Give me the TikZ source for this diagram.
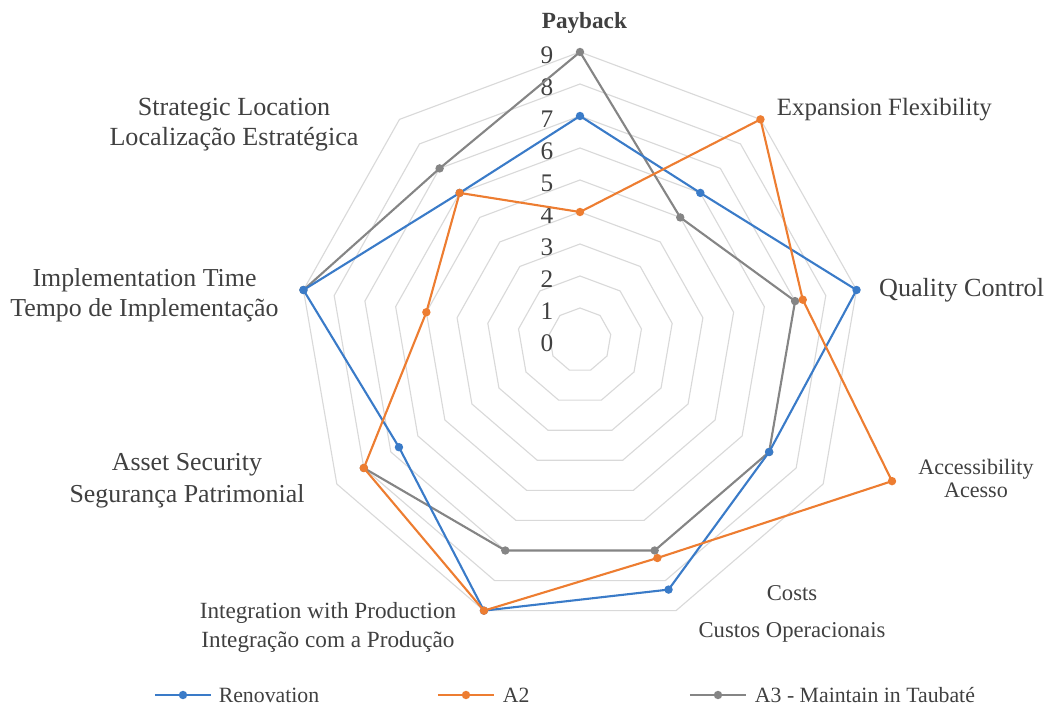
\documentclass[tikz,border=0pt]{standalone}
\usepackage{fontspec}
\setmainfont{Liberation Serif}
\usepackage{xcolor}
\usetikzlibrary{positioning}

\definecolor{renov}{HTML}{3A7BC8}
\definecolor{atwo}{HTML}{ED7D31}
\definecolor{athree}{HTML}{858585}
\definecolor{grid}{HTML}{D9D9D9}
\definecolor{txt}{HTML}{404040}

\begin{document}
\begin{tikzpicture}[
    lbl/.style={text=txt,align=center},
    lgd/.style={text=txt,font=\fontsize{15.5}{18}\selectfont},
    grd/.style={draw=grid,line width=0.8pt},
    ser/.style={draw=#1,line width=1.5pt,line join=round}]
    \useasboundingbox (-14.5,-9.475) rectangle (11.725,8.5);

    \begin{scope}[x=0.78cm,y=0.8cm]
        \foreach \k in {1,...,9}
            \draw[grd] (90:\k) \foreach \a in {50,10,...,-230} {-- (\a:\k)} -- cycle;
        \foreach \k in {0,...,9}
            \node[lbl,font=\fontsize{18}{20}\selectfont] (v\k) at ([xshift=-0.825cm,yshift=-0.075cm]0,\k) {\k};

        \foreach \v [count=\i] in {9,5,7,7,7,7,8,9,7}
            \coordinate (g\i) at ({130-40*\i}:\v);
        \foreach \v [count=\i] in {7,6,9,7,8.3,9,6.7,9,6}
            \coordinate (b\i) at ({130-40*\i}:\v);
        \foreach \v [count=\i] in {4,9,7.25,11,7.25,9,8,5,6}
            \coordinate (o\i) at ({130-40*\i}:\v);
        \coordinate (o4) at (-23.8:10.93);

        \draw[ser=athree] (g8) -- (g9) \foreach \i in {1,...,7} {-- (g\i)};
        \foreach \i in {1,...,9} \fill[athree] (g\i) circle (3pt);
        \draw[ser=renov] (b1) \foreach \i in {2,...,9} {-- (b\i)} -- cycle;
        \foreach \i in {1,...,9} \fill[renov] (b\i) circle (3pt);
        \draw[ser=atwo] (o1) \foreach \i in {2,...,9} {-- (o\i)} -- cycle;
        \foreach \i in {1,...,9} \fill[atwo] (o\i) circle (3pt);
    \end{scope}

    \node[lbl,font=\bfseries\fontsize{16.5}{19}\selectfont] (pb) at (0.11,7.925) {Payback};
    \node[lbl,font=\fontsize{17.7}{21}\selectfont] (ef) at (7.61,5.75) {Expansion Flexibility};
    \node[lbl,font=\fontsize{18.6}{21}\selectfont] (qc) at (9.54,1.25) {Quality Control};
    \node[lbl,font=\fontsize{15.7}{17}\selectfont] (ac) at (9.9,-3.46) {Accessibility\\Acesso};
    \node[lbl,font=\fontsize{16.1}{26.5}\selectfont] (co) at (5.3,-6.84) {Costs\\Custos Operacionais};
    \node[lbl,font=\fontsize{16.5}{20.6}\selectfont] (ip) at (-6.3,-7.175) {Integration with Production\\Integração com a Produção};
    \node[lbl,font=\fontsize{18.4}{22.8}\selectfont] (as) at (-9.825,-3.525) {Asset Security\\Segurança Patrimonial};
    \node[lbl,font=\fontsize{18.4}{21.3}\selectfont] (it) at (-10.8875,1.125) {Implementation Time\\Tempo de Implementação};
    \node[lbl,font=\fontsize{18.6}{21.3}\selectfont] (sl) at (-8.65,5.375) {Strategic Location\\Localização Estratégica};

    \coordinate (r1) at (-10.625,-8.875);
    \coordinate (r2) at (-9.225,-8.875);
    \coordinate (rm) at (-9.925,-8.875);
    \coordinate (a1) at (-3.55,-8.875);
    \coordinate (a2) at (-2.15,-8.875);
    \coordinate (am) at (-2.85,-8.875);
    \coordinate (t1) at (2.75,-8.875);
    \coordinate (t2) at (4.15,-8.875);
    \coordinate (tm) at (3.45,-8.875);

    \draw[ser=renov] (r1) -- (r2);
    \fill[renov] (rm) circle (3pt);
    \node[lgd,right=0.07cm of r2] (lr) {Renovation};
    \draw[ser=atwo] (a1) -- (a2);
    \fill[atwo] (am) circle (3pt);
    \node[lgd,right=0.1cm of a2] (la) {A2};
    \draw[ser=athree] (t1) -- (t2);
    \fill[athree] (tm) circle (3pt);
    \node[lgd,right=0.1cm of t2] (lt) {A3 - Maintain in Taubaté};
\end{tikzpicture}
\end{document}
